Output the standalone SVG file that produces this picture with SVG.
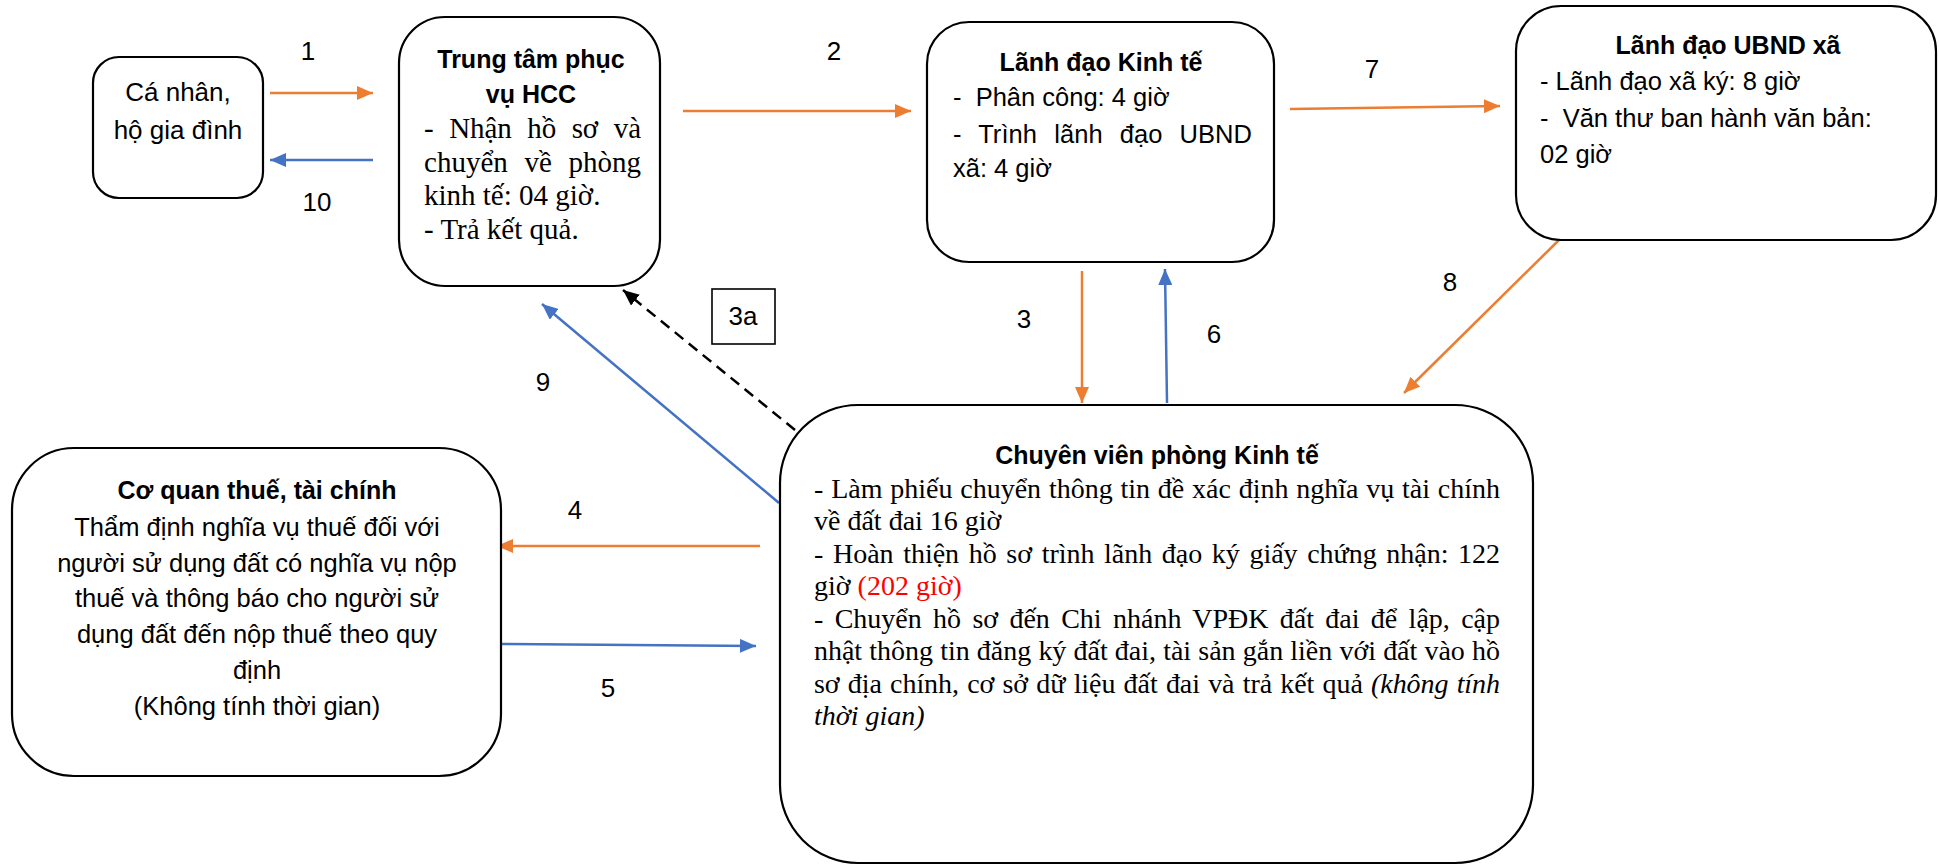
<svg xmlns="http://www.w3.org/2000/svg" width="1939" height="866" viewBox="0 0 1939 866">
<style>
.box{fill:#fff;stroke:#000;stroke-width:2.2}
.s{font-family:"Liberation Sans",Arial,sans-serif;font-size:25.5px;fill:#000}
.b{font-family:"Liberation Sans",Arial,sans-serif;font-size:25px;font-weight:bold;fill:#000}
.t{font-family:"Liberation Serif","Times New Roman",serif;font-size:28px;fill:#000}
.lbl{font-family:"Liberation Sans",Arial,sans-serif;font-size:26px;fill:#000;text-anchor:middle}
.c{text-anchor:middle}
.o{stroke:#ED7D31;stroke-width:2.5;fill:none}
.bl{stroke:#4472C4;stroke-width:2.5;fill:none}
.d{stroke:#000;stroke-width:2.5;fill:none;stroke-dasharray:11 7}
</style>
<defs>
<marker id="ao" markerUnits="userSpaceOnUse" markerWidth="16" markerHeight="14" refX="16" refY="7" orient="auto"><path d="M0,0 L16,7 L0,14 z" fill="#ED7D31"/></marker>
<marker id="ab" markerUnits="userSpaceOnUse" markerWidth="16" markerHeight="14" refX="16" refY="7" orient="auto"><path d="M0,0 L16,7 L0,14 z" fill="#4472C4"/></marker>
<marker id="ak" markerUnits="userSpaceOnUse" markerWidth="16" markerHeight="14" refX="16" refY="7" orient="auto"><path d="M0,0 L16,7 L0,14 z" fill="#000"/></marker>
</defs>
<rect width="1939" height="866" fill="#fff"/>

<g id="connectors">
<line class="o" x1="270" y1="93" x2="373" y2="93" marker-end="url(#ao)"/>
<line class="bl" x1="373" y1="160" x2="270" y2="160" marker-end="url(#ab)"/>
<line class="o" x1="683" y1="111" x2="911" y2="111" marker-end="url(#ao)"/>
<line class="o" x1="1290" y1="109" x2="1500" y2="106" marker-end="url(#ao)"/>
<line class="o" x1="1559" y1="240" x2="1404" y2="393" marker-end="url(#ao)"/>
<line class="o" x1="1082" y1="271" x2="1082" y2="403" marker-end="url(#ao)"/>
<line class="bl" x1="1167" y1="403" x2="1165" y2="269" marker-end="url(#ab)"/>
<line class="bl" x1="779" y1="503" x2="542" y2="304" marker-end="url(#ab)"/>
<line class="d" x1="795" y1="430" x2="623" y2="290" marker-end="url(#ak)"/>
<line class="o" x1="760" y1="546" x2="497" y2="546" marker-end="url(#ao)"/>
<line class="bl" x1="502" y1="644" x2="756" y2="646" marker-end="url(#ab)"/>
<text class="lbl" x="308" y="60">1</text>
<text class="lbl" x="317" y="211">10</text>
<text class="lbl" x="834" y="60">2</text>
<text class="lbl" x="1372" y="78">7</text>
<text class="lbl" x="1450" y="291">8</text>
<text class="lbl" x="1024" y="328">3</text>
<text class="lbl" x="1214" y="343">6</text>
<text class="lbl" x="543" y="391">9</text>
<text class="lbl" x="575" y="519">4</text>
<text class="lbl" x="608" y="697">5</text>
<rect x="712" y="289" width="63" height="55" fill="#fff" stroke="#000" stroke-width="1.6"/>
<text class="lbl" x="743" y="325">3a</text>
</g>

<g id="ca-nhan">
<rect class="box" x="93" y="57" width="170" height="141" rx="26"/>
<text class="s c" x="178" y="101" style="font-size:26px">Cá nhân,</text>
<text class="s c" x="178" y="139" style="font-size:26px">hộ gia đình</text>
</g>

<g id="trung-tam">
<rect class="box" x="399" y="17" width="261" height="269" rx="46"/>
<text class="b c" x="531" y="68">Trung tâm phục</text>
<text class="b c" x="531" y="103">vụ HCC</text>
<text class="t" x="424" y="138" style="font-size:29px;word-spacing:8.4px" textLength="217" lengthAdjust="spacing">- Nhận hồ sơ và</text>
<text class="t" x="424" y="172" style="font-size:29px;word-spacing:9.4px" textLength="217" lengthAdjust="spacing">chuyển về phòng</text>
<text class="t" x="424" y="205" style="font-size:29px">kinh tế: 04 giờ.</text>
<text class="t" x="424" y="239" style="font-size:29px">- Trả kết quả.</text>
</g>

<g id="lanh-dao-kinh-te">
<rect class="box" x="927" y="22" width="347" height="240" rx="42"/>
<text class="b c" x="1101" y="71">Lãnh đạo Kinh tế</text>
<text class="s" x="953" y="106" xml:space="preserve">-  Phân công: 4 giờ</text>
<text class="s" x="953" y="143" style="word-spacing:9.9px" textLength="299" lengthAdjust="spacing">- Trình lãnh đạo UBND</text>
<text class="s" x="953" y="177">xã: 4 giờ</text>
</g>

<g id="lanh-dao-ubnd">
<rect class="box" x="1516" y="6" width="420" height="234" rx="45"/>
<text class="b c" x="1728" y="54">Lãnh đạo UBND xã</text>
<text class="s" x="1540" y="90">- Lãnh đạo xã ký: 8 giờ</text>
<text class="s" x="1540" y="127" xml:space="preserve">-  Văn thư ban hành văn bản:</text>
<text class="s" x="1540" y="163">02 giờ</text>
</g>

<g id="chuyen-vien">
<rect class="box" x="780" y="405" width="753" height="458" rx="78"/>
<text class="b c" x="1157" y="464">Chuyên viên phòng Kinh tế</text>
<text class="t" x="814" y="498" style="word-spacing:0.8px" textLength="686" lengthAdjust="spacing">- Làm phiếu chuyển thông tin đề xác định nghĩa vụ tài chính</text>
<text class="t" x="814" y="530">về đất đai 16 giờ</text>
<text class="t" x="814" y="563" style="word-spacing:2.7px" textLength="686" lengthAdjust="spacing">- Hoàn thiện hồ sơ trình lãnh đạo ký giấy chứng nhận: 122</text>
<text class="t" x="814" y="595">giờ <tspan fill="#FF0000">(202 giờ)</tspan></text>
<text class="t" x="814" y="628" style="word-spacing:4.3px" textLength="686" lengthAdjust="spacing">- Chuyển hồ sơ đến Chi nhánh VPĐK đất đai để lập, cập</text>
<text class="t" x="814" y="660" style="word-spacing:0.2px" textLength="686" lengthAdjust="spacing">nhật thông tin đăng ký đất đai, tài sản gắn liền với đất vào hồ</text>
<text class="t" x="814" y="693" style="word-spacing:1.3px" textLength="686" lengthAdjust="spacing">sơ địa chính, cơ sở dữ liệu đất đai và trả kết quả <tspan font-style="italic">(không tính</tspan></text>
<text class="t" x="814" y="725" font-style="italic">thời gian)</text>
</g>

<g id="co-quan-thue">
<rect class="box" x="12" y="448" width="489" height="328" rx="62"/>
<text class="b c" x="257" y="499">Cơ quan thuế, tài chính</text>
<text class="s c" x="257" y="536">Thẩm định nghĩa vụ thuế đối với</text>
<text class="s c" x="257" y="572">người sử dụng đất có nghĩa vụ nộp</text>
<text class="s c" x="257" y="607">thuế và thông báo cho người sử</text>
<text class="s c" x="257" y="643">dụng đất đến nộp thuế theo quy</text>
<text class="s c" x="257" y="679">định</text>
<text class="s c" x="257" y="715">(Không tính thời gian)</text>
</g>
</svg>
